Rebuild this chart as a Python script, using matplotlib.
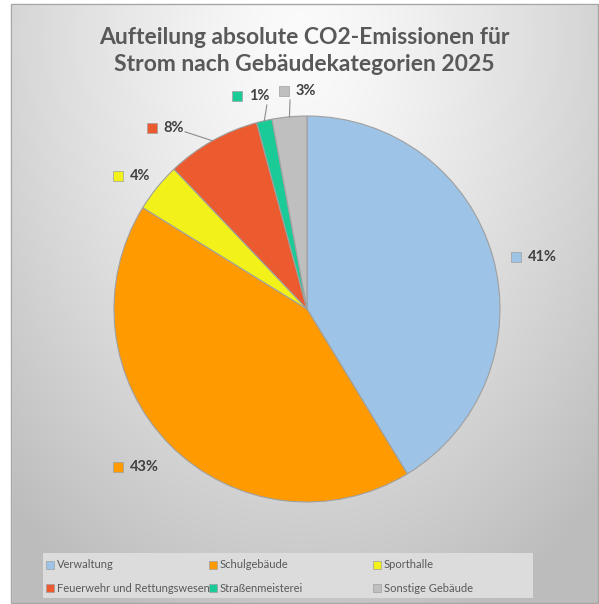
import numpy as np
import matplotlib
matplotlib.use('Agg')
from matplotlib import pyplot as plt
from matplotlib.patches import Rectangle

# data
categories = ['Verwaltung', 'Schulgebäude', 'Sporthalle',
              'Feuerwehr und Rettungswesen', 'Straßenmeisterei', 'Sonstige Gebäude']
shares = [41.3, 42.5, 4.1, 7.9, 1.3, 2.9]
pct_labels = ['41%', '43%', '4%', '8%', '1%', '3%']
colors = ['#9dc3e6', '#ff9a00', '#f2f21a', '#ec5a30', '#1acb98', '#bfbfbf']
title = 'Aufteilung absolute CO2-Emissionen für\nStrom nach Gebäudekategorien 2025'

plt.rcParams['font.family'] = ['Lato', 'DejaVu Sans']

W, H = 599, 604
fig = plt.figure(figsize=(W / 100, H / 100), dpi=100)

# background with soft radial gradient
bg = fig.add_axes([0, 0, 1, 1])
yy, xx = np.mgrid[0:H, 0:W]
d = np.sqrt(((xx - 300) / 420.0) ** 2 + ((yy - 40) / 620.0) ** 2)
shade = np.clip(0.985 - 0.24 * d ** 1.3, 0.74, 1.0)
img = np.dstack([shade] * 3)
bg.imshow(img, extent=[0, W, H, 0], aspect='auto', interpolation='bilinear')
bg.set_xlim(0, W)
bg.set_ylim(H, 0)
bg.axis('off')
# white margin + frame
bg.add_patch(Rectangle((0, 0), 11, H, color='white', zorder=2))
bg.add_patch(Rectangle((0, 0), W, 4, color='white', zorder=2))
bg.add_patch(Rectangle((11, 4), W - 12, H - 5, fill=False, edgecolor='#a6a6a6', lw=1, zorder=3))

# legend box (manual, Excel uses equal column widths)
bg.add_patch(Rectangle((43, 553), 490, 45, facecolor='#dcdcdc', edgecolor='none', zorder=2))
col_x = [50, 213, 377]
row_y = [565, 588]
for i, (cat, col) in enumerate(zip(categories, colors)):
    cx = col_x[i % 3]
    cy = row_y[i // 3]
    bg.add_patch(Rectangle((cx - 4, cy - 4), 8, 8, facecolor=col, edgecolor='#a0a0a0', lw=0.5, zorder=4))
    bg.text(cx + 7, cy, cat, fontsize=8, color='#595959', va='center', ha='left', zorder=4)

bg.text(W / 2 + 5, 51, title, fontsize=16.5, fontweight='bold', color='#595959',
        ha='center', va='center', linespacing=1.3, zorder=4)

# pie
cx_px, cy_px, r_px = 307, 309, 193
ax = fig.add_axes([(cx_px - r_px) / W, (H - cy_px - r_px) / H, 2 * r_px / W, 2 * r_px / H])
ax.set_facecolor('none')
wedges, _ = ax.pie(shares, colors=colors, startangle=90, counterclock=False,
                   wedgeprops=dict(edgecolor='#a0a0a0', linewidth=0.8), radius=1.0)
ax.set_xlim(-1, 1)
ax.set_ylim(-1, 1)
ax.axis('off')

# data label positions (square marker centre, in pie data units)
label_pos = [(1.083, 0.269), (-0.979, -0.819), (-0.979, 0.689),
             (-0.803, 0.938), (-0.363, 1.104), (-0.119, 1.130)]
# leader line start, offset from the marker (None = no leader line)
leader_off = [None, None, None, (0.171, -0.02), (0.155, -0.047), (0.031, -0.047)]
for w, txt, col, (lx, ly), off in zip(wedges, pct_labels, colors, label_pos, leader_off):
    ax.plot(lx, ly, marker='s', ms=6.5, color=col, mec='#a0a0a0', mew=0.5, clip_on=False)
    ax.text(lx + 0.06, ly, txt, fontsize=10.5, fontweight='bold', color='#404040',
            va='center', ha='left', clip_on=False)
    if off is not None:
        mid = np.deg2rad((w.theta1 + w.theta2) / 2)
        ex, ey = np.cos(mid), np.sin(mid)
        ax.plot([lx + off[0], ex], [ly + off[1], ey], color='#8c8c8c', lw=0.8, clip_on=False)

fig.savefig('out.png', dpi=100)
